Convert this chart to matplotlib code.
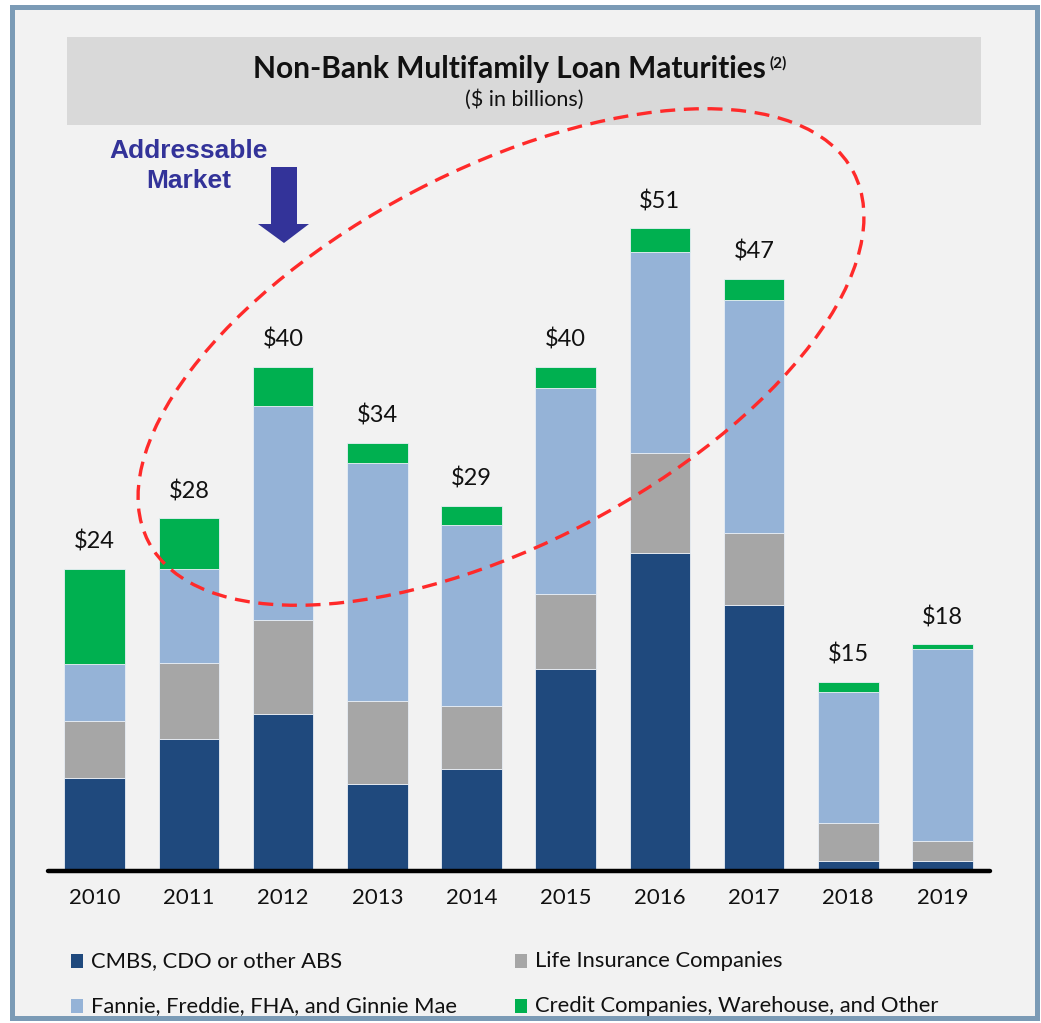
import matplotlib
matplotlib.use("Agg")
import matplotlib.pyplot as plt
from matplotlib.patches import Rectangle, Ellipse, Polygon
import numpy as np

# Non-bank multifamily loan maturities, $ billions
years = ["2010", "2011", "2012", "2013", "2014", "2015", "2016", "2017", "2018", "2019"]
cmbs = [7.4, 10.5, 12.5, 6.9, 8.1, 16.0, 25.2, 21.1, 0.8, 0.8]
life_ins = [4.5, 6.0, 7.4, 6.6, 5.0, 6.0, 8.0, 5.7, 3.0, 1.6]
agency = [4.5, 7.5, 17.0, 18.9, 14.4, 16.3, 15.9, 18.5, 10.4, 15.2]
credit = [7.6, 4.0, 3.1, 1.6, 1.5, 1.7, 1.9, 1.7, 0.8, 0.4]

series_names = ["CMBS, CDO or other ABS", "Life Insurance Companies",
                "Fannie, Freddie, FHA, and Ginnie Mae",
                "Credit Companies, Warehouse, and Other"]
series_colors = ["#1f497d", "#a6a6a6", "#95b3d7", "#00b050"]

W, H = 1041, 1023
DPI = 100
FONT = "Lato"

fig = plt.figure(figsize=(W / DPI, H / DPI), dpi=DPI)
fig.patch.set_facecolor("white")

# background layer in pixel coordinates
bg = fig.add_axes([0, 0, 1, 1], zorder=0)
bg.set_xlim(0, W)
bg.set_ylim(H, 0)
bg.axis("off")
bg.add_patch(Rectangle((12, 7), 1025, 1011, facecolor="#f2f2f2",
                       edgecolor="#7b9bb6", linewidth=3.6))
bg.add_patch(Rectangle((67, 37), 914, 88, facecolor="#d9d9d9", edgecolor="none"))
title = bg.text(509, 69, "Non-Bank Multifamily Loan Maturities", ha="center", va="center",
                fontsize=21.5, fontweight="bold", family=FONT, color="#111111")
bg.annotate("(2)", xy=(1, 1), xycoords=title, xytext=(3, -1), textcoords="offset points",
            ha="left", va="top", fontsize=11, fontweight="bold", family=FONT,
            color="#111111")
bg.text(524, 100, "($ in billions)", ha="center", va="center", fontsize=15.5,
        family=FONT, color="#111111")

# callout text and arrow
mk = "#333399"
bg.text(189, 151, "Addressable", ha="center", va="center", fontsize=19,
        fontweight="bold", family="Liberation Sans", color=mk)
bg.text(189, 181, "Market", ha="center", va="center", fontsize=19,
        fontweight="bold", family="Liberation Sans", color=mk)
bg.add_patch(Polygon([(271, 167), (297, 167), (297, 224), (309, 224), (284, 243),
                      (258, 224), (271, 224)], closed=True, facecolor=mk, edgecolor="none"))

# legend
leg_items = [(71, 961, 0), (515, 961, 1), (71, 1006, 2), (515, 1006, 3)]
for x0, yc, i in leg_items:
    bg.add_patch(Rectangle((x0, yc - 7), 12, 14, facecolor=series_colors[i], edgecolor="none"))
    bg.text(x0 + 20, yc, series_names[i], ha="left", va="center", fontsize=15.8,
            family=FONT, color="#111111")

# stacked bar chart
scale = 12.6  # pixels per $1bn
base_px = 871
ax_left, ax_right = 47.6, 989.6
ymax = 56
ax = fig.add_axes([ax_left / W, (H - base_px) / H, (ax_right - ax_left) / W,
                   ymax * scale / H], zorder=2)
ax.patch.set_alpha(0)
x = np.arange(len(years))
bottom = np.zeros(len(years))
for vals, color in zip([cmbs, life_ins, agency, credit], series_colors):
    ax.bar(x, vals, width=0.645, bottom=bottom, color=color,
           edgecolor="#e8eef5", linewidth=0.6)
    bottom = bottom + np.array(vals)

for xi, tot in zip(x, bottom):
    ax.annotate(f"${tot:.0f}", (xi, tot), xytext=(0, 19.5), textcoords="offset points",
                ha="center", va="center", fontsize=17, family=FONT, color="#111111")

ax.set_xlim(-0.5, 9.5)
ax.set_ylim(0, ymax)
ax.axhline(0, color="black", linewidth=3.2, solid_capstyle="round", clip_on=False)
ax.set_xticks(x)
ax.set_xticklabels(years, fontsize=16, family=FONT, color="#111111")
ax.tick_params(axis="x", length=0, pad=12)
ax.set_yticks([])
for s in ax.spines.values():
    s.set_visible(False)

# dashed ellipse around the addressable years
fg = fig.add_axes([0, 0, 1, 1], zorder=3)
fg.set_xlim(0, W)
fg.set_ylim(H, 0)
fg.axis("off")
fg.patch.set_alpha(0)
fg.add_patch(Ellipse((501, 357), 796, 374, angle=-27.7, fill=False,
                     edgecolor="#ff2a2a", linewidth=2.4, linestyle=(0, (4.5, 2.6))))

fig.savefig("out.png", dpi=DPI)
